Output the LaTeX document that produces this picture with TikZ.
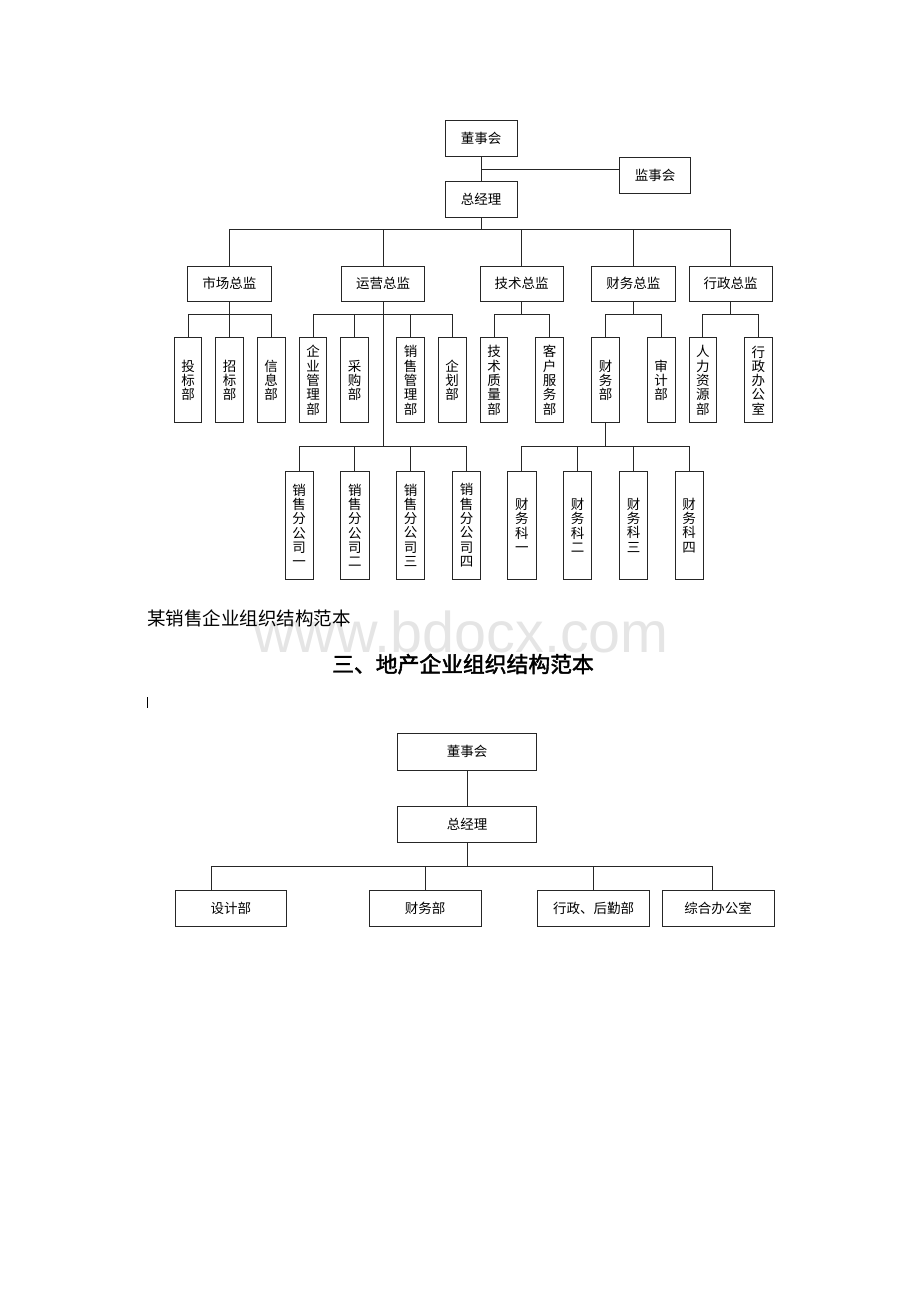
\documentclass[tikz,border=0pt]{standalone}
\usepackage{fontspec}
\setmainfont{Noto Sans CJK SC}[AutoFakeBold=2]
\newfontfamily\wmfont{Liberation Sans}

\begin{document}
\begin{tikzpicture}[x=1pt,y=-1pt,
  box/.style={draw=black!85,line width=0.8pt,inner sep=0pt,align=center,
    font=\fontsize{13.5}{14.3}\selectfont},
  topbox/.style={box,minimum width=72.3pt,minimum height=36pt},
  chiefbox/.style={box,minimum width=83.5pt,minimum height=35pt},
  deptbox/.style={box,minimum width=27.7pt,minimum height=85pt},
  unitbox/.style={box,minimum width=28.3pt,minimum height=108.3pt},
  widebox/.style={box,minimum width=139.4pt,minimum height=36.3pt},
  lowbox/.style={box,minimum width=111.7pt,minimum height=36pt},
  link/.style={draw=black!85,line width=0.8pt}]
\useasboundingbox (0,0) rectangle (920,1302);

% watermark behind everything
\node[text=black!10,font=\wmfont\fontsize{57.5}{57.5}\selectfont,anchor=base,inner sep=0pt] (wmark) at (461,652) {www.bdocx.com};

% top chart
\node[topbox] (dsh) at (481.2,138.7) {董事会};
\node[topbox,minimum width=71.4pt] (jsh) at (655,175.3) {监事会};
\node[topbox,minimum height=36.3pt] (zjl) at (481.2,199.2) {总经理};

\coordinate (jshjoin) at (481.2,169.3);
\coordinate (bus1) at (481.2,229.3);
\draw[link] (dsh) -- (zjl);
\draw[link] (jshjoin) -- (jsh.west |- jshjoin);
\draw[link] (zjl) -- (bus1);

\node[chiefbox] (scz) at (229.3,283.7) {市场总监};
\node[chiefbox] (yyz) at (383,283.7) {运营总监};
\node[chiefbox] (jsz) at (521.7,283.7) {技术总监};
\node[chiefbox] (cwz) at (633.3,283.7) {财务总监};
\node[chiefbox] (xzz) at (730.7,283.7) {行政总监};
\draw[link] (scz.north) |- (bus1);
\draw[link] (yyz.north) |- (bus1);
\draw[link] (jsz.north) |- (bus1);
\draw[link] (cwz.north) |- (bus1);
\draw[link] (xzz.north) |- (bus1);

% departments
\node[deptbox] (tbb) at (188,380.3) {投\\标\\部};
\node[deptbox] (zbb) at (229.5,380.3) {招\\标\\部};
\node[deptbox] (xxb) at (271.2,380.3) {信\\息\\部};
\node[deptbox] (qyb) at (313,380.3) {企\\业\\管\\理\\部};
\node[deptbox] (cgb) at (354.7,380.3) {采\\购\\部};
\node[deptbox] (xsb) at (410.5,380.3) {销\\售\\管\\理\\部};
\node[deptbox] (qhb) at (452.2,380.3) {企\\划\\部};
\node[deptbox] (zlb) at (494,380.3) {技\\术\\质\\量\\部};
\node[deptbox] (kfb) at (549.5,380.3) {客\\户\\服\\务\\部};
\node[deptbox] (cwb) at (605.5,380.3) {财\\务\\部};
\node[deptbox] (sjb) at (661.2,380.3) {审\\计\\部};
\node[deptbox] (rlb) at (702.8,380.3) {人\\力\\资\\源\\部};
\node[deptbox] (xzb) at (758.3,380.3) {行\\政\\办\\公\\室};

\coordinate (scbus) at (229.3,314.3);
\coordinate (yybus) at (383,314.3);
\coordinate (jsbus) at (521.7,314.3);
\coordinate (cwbus) at (633.3,314.3);
\coordinate (xzbus) at (730.7,314.3);
\draw[link] (scz) -- (scbus);
\draw[link] (cwz) -- (cwbus);
\draw[link] (jsz) -- (jsbus);
\draw[link] (xzz) -- (xzbus);
\draw[link] (tbb.north) |- (scbus);
\draw[link] (zbb.north) |- (scbus);
\draw[link] (xxb.north) |- (scbus);
\draw[link] (qyb.north) |- (yybus);
\draw[link] (cgb.north) |- (yybus);
\draw[link] (xsb.north) |- (yybus);
\draw[link] (qhb.north) |- (yybus);
\draw[link] (zlb.north) |- (jsbus);
\draw[link] (kfb.north) |- (jsbus);
\draw[link] (cwb.north) |- (cwbus);
\draw[link] (sjb.north) |- (cwbus);
\draw[link] (rlb.north) |- (xzbus);
\draw[link] (xzb.north) |- (xzbus);

% branch offices and sections
\node[unitbox] (fgs1) at (299.2,525.2) {销\\售\\分\\公\\司\\一};
\node[unitbox] (fgs2) at (354.8,525.2) {销\\售\\分\\公\\司\\二};
\node[unitbox] (fgs3) at (410.7,525.2) {销\\售\\分\\公\\司\\三};
\node[unitbox] (fgs4) at (466.5,525.2) {销\\售\\分\\公\\司\\四};
\node[unitbox] (cwk1) at (521.8,525.2) {财\\务\\科\\一};
\node[unitbox] (cwk2) at (577.5,525.2) {财\\务\\科\\二};
\node[unitbox] (cwk3) at (633.5,525.2) {财\\务\\科\\三};
\node[unitbox] (cwk4) at (689.2,525.2) {财\\务\\科\\四};

\coordinate (fgsbus) at (383,446.7);
\coordinate (cwkbus) at (605.5,446.7);
\draw[link] (yyz) -- (fgsbus);
\draw[link] (cwb) -- (cwkbus);
\draw[link] (fgs1.north) |- (fgsbus);
\draw[link] (fgs2.north) |- (fgsbus);
\draw[link] (fgs3.north) |- (fgsbus);
\draw[link] (fgs4.north) |- (fgsbus);
\draw[link] (cwk1.north) |- (cwkbus);
\draw[link] (cwk2.north) |- (cwkbus);
\draw[link] (cwk3.north) |- (cwkbus);
\draw[link] (cwk4.north) |- (cwkbus);

% texts between the charts
\node[anchor=west,inner sep=0pt,font=\fontsize{18.5}{18.5}\selectfont] (caption) at (147,618) {某销售企业组织结构范本};
\node[inner sep=0pt,font=\bfseries\fontsize{21.8}{21.8}\selectfont] (heading) at (463,664) {三、地产企业组织结构范本};
\draw[line width=1.3pt] (147.5,697) -- (147.5,708);

% bottom chart
\node[widebox] (dsh2) at (467,751.8) {董事会};
\node[widebox] (zjl2) at (467,824.5) {总经理};
\node[lowbox] (sjb2) at (230.8,908.7) {设计部};
\node[lowbox] (cwb2) at (425.2,908.7) {财务部};
\node[lowbox] (hqb2) at (593.5,908.7) {行政、后勤部};
\node[lowbox] (zhb2) at (718.2,908.7) {综合办公室};

\coordinate (bus2) at (467,866.7);
\draw[link] (dsh2) -- (zjl2);
\draw[link] (zjl2) -- (bus2);
\draw[link] ([xshift=-19.8pt]sjb2.north) |- (bus2);
\draw[link] (cwb2.north) |- (bus2);
\draw[link] (hqb2.north) |- (bus2);
\draw[link] ([xshift=-6pt]zhb2.north) |- (bus2);
\end{tikzpicture}
\end{document}
